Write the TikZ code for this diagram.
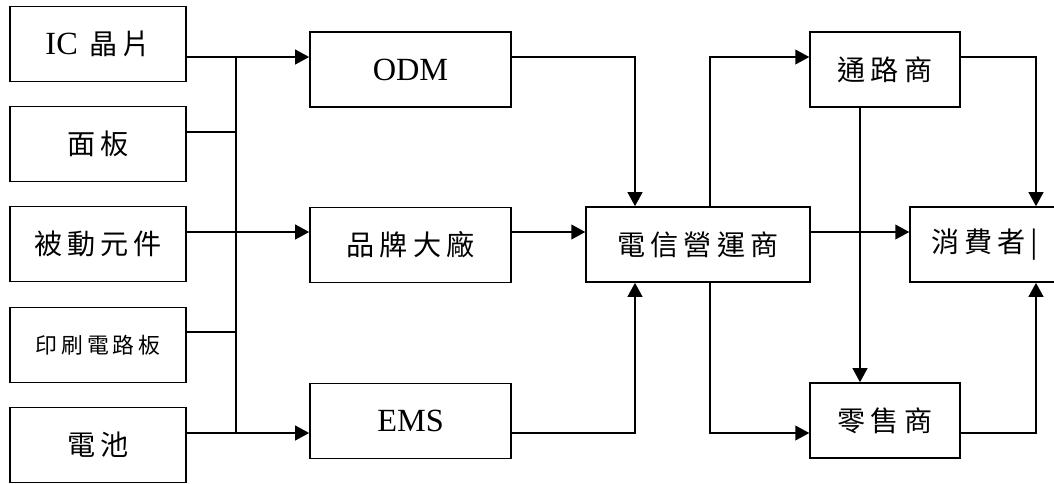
\documentclass[tikz,border=0pt]{standalone}
\usepackage{fontspec}
\setmainfont{Liberation Serif}
\newfontfamily\cjk[LetterSpace=18]{Noto Sans CJK TC}
\usetikzlibrary{
    calc,
    positioning,
    arrows.meta
}
\tikzset{
    line/.style = {
        line width = 1.2pt,
        -{Triangle[length=3.5mm, width=3.7mm]}
    },
    % Line without tip:
    bus line/.style = {
        line width = 1.2pt
    },
    % Box:
    block node/.style = {
        rectangle,
        draw = black,
        line width = 1pt,
        inner sep = 0pt,
        minimum height = 1.88cm,
        font = \fontsize{20}{23}\selectfont\cjk
    },
    % Supplier box:
    part node/.style = {
        block node,
        minimum width = 4.4cm
    },
    % Maker box:
    maker node/.style = {
        block node,
        minimum width = 5.03cm
    },
    % Seller box:
    seller node/.style = {
        block node,
        minimum width = 3.75cm
    }
}
\newcommand{\lat}[1]{{\fontsize{23}{26}\selectfont\rmfamily #1}}

\begin{document}
\begin{tikzpicture}[x=0.025cm, y=-0.025cm]
    \useasboundingbox (0, 0) rectangle (1054, 483);
    % rows and columns of the connectors
    \coordinate (r1) at (0, 57);
    \coordinate (r2) at (0, 132);
    \coordinate (r3) at (0, 232);
    \coordinate (r4) at (0, 332);
    \coordinate (r5) at (0, 433);
    \coordinate (bus) at (236, 0);
    \coordinate (c1) at (635, 0);
    \coordinate (c2) at (710, 0);
    \coordinate (c3) at (860, 0);
    \coordinate (c4) at (1036, 0);

    \node [part node] (chip) at (98, 44) {\lat{IC} 晶片};
    \node [part node] (panel) at (98, 144) {面板};
    \node [part node] (passive) at (98, 244) {被動元件};
    \node [part node, font=\fontsize{15.5}{18}\selectfont\cjk] (pcb) at (98, 345) {印刷電路板};
    \node [part node] (battery) at (98, 445) {電池};

    \node [maker node] (odm) at (410.5, 69.5) {\lat{ODM}};
    \node [maker node] (brand) at (410.5, 245) {品牌大廠};
    \node [maker node] (ems) at (410.5, 421) {\lat{EMS}};

    \node [block node, minimum width=5.6cm] (telecom) at (698, 244.5) {電信營運商};
    \node [seller node] (channel) at (885, 69.5) {通路商};
    \node [seller node] (retail) at (885, 420.5) {零售商};
    \node [seller node] (consumer) at (985, 244.5) {消費者|};

    \draw [line] (chip.east |- r1) -- (odm.west |- r1);
    \draw [bus line] (panel.east |- r2) -- (bus |- r2);
    \draw [line] (passive.east |- r3) -- (brand.west |- r3);
    \draw [bus line] (pcb.east |- r4) -- (bus |- r4);
    \draw [line] (battery.east |- r5) -- (ems.west |- r5);
    \draw [bus line] (bus |- r1) -- (bus |- r5);

    \draw [line] (odm.east |- r1) -| (telecom.north -| c1);
    \draw [line] (brand.east |- r3) -- (telecom.west |- r3);
    \draw [line] (ems.east |- r5) -| (telecom.south -| c1);

    \draw [line] (telecom.north -| c2) |- (channel.west |- r1);
    \draw [line] (telecom.south -| c2) |- (retail.west |- r5);
    \draw [line] (telecom.east |- r3) -- (consumer.west |- r3);
    \draw [line] (channel.south -| c3) -- (retail.north -| c3);
    \draw [line] (channel.east |- r1) -| (consumer.north -| c4);
    \draw [line] (retail.east |- r5) -| (consumer.south -| c4);
\end{tikzpicture}
\end{document}
